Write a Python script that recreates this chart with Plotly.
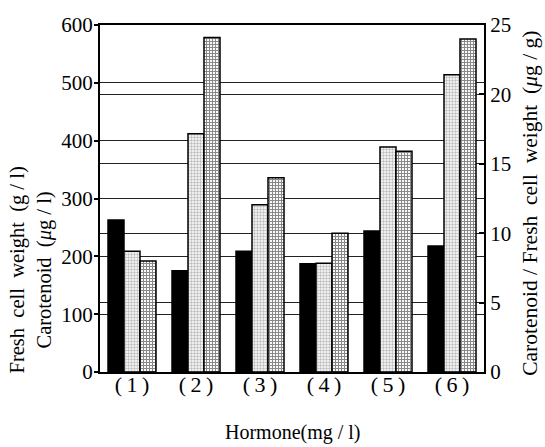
import plotly.graph_objects as go

categories = ["(\u20091\u2009)", "(\u20092\u2009)", "(\u20093\u2009)", "(\u20094\u2009)", "(\u20095\u2009)", "(\u20096\u2009)"]
fresh_weight = [263, 175, 209, 187, 244, 218]          # g/l (left axis)
carotenoid = [209, 412, 289, 188, 389, 514]            # μg/l (left axis)
ratio = [8.0, 24.1, 14.0, 10.0, 15.9, 24.0]            # μg/g (right axis)

left_ticks = [0, 100, 200, 300, 400, 500, 600]
right_ticks = [0, 5, 10, 15, 20, 25]

FONT = "Liberation Serif"
x_idx = list(range(len(categories)))

fig = go.Figure()
fig.add_trace(go.Bar(
    x=x_idx, y=fresh_weight, width=0.25, offset=-0.375,
    marker=dict(color="black", line=dict(color="black", width=1.5)),
    name="Fresh cell weight", yaxis="y"))
fig.add_trace(go.Bar(
    x=x_idx, y=carotenoid, width=0.25, offset=-0.125,
    marker=dict(color="white", line=dict(color="black", width=1.5),
                pattern=dict(shape=".", fgcolor="#777", bgcolor="white", size=3, solidity=0.5)),
    name="Carotenoid", yaxis="y"))
fig.add_trace(go.Bar(
    x=x_idx, y=ratio, width=0.25, offset=0.125,
    marker=dict(color="white", line=dict(color="black", width=1.5),
                pattern=dict(shape="+", fgcolor="#111", bgcolor="white", size=3, solidity=0.6)),
    name="Carotenoid / Fresh cell weight", yaxis="y2"))

fig.update_layout(
    width=545, height=447,
    margin=dict(l=100, r=61, t=25, b=75),
    paper_bgcolor="white", plot_bgcolor="white",
    barmode="overlay", showlegend=False,
    font=dict(family=FONT, color="black", size=21),
    xaxis=dict(
        tickmode="array", tickvals=x_idx, ticktext=categories,
        range=[-0.5, 5.5], showline=True, linecolor="black", linewidth=2,
        mirror=True, ticks="", showgrid=False, tickfont=dict(size=22),
        ticklabelstandoff=-8),
    yaxis=dict(
        range=[0, 600], tickvals=left_ticks, showline=True, linecolor="black",
        linewidth=2, ticks="outside", ticklen=4, tickcolor="black", tickwidth=1.5,
        showgrid=True, gridcolor="#222", gridwidth=1.2, zeroline=False,
        tickfont=dict(size=21), ticklabelstandoff=-3),
    yaxis2=dict(
        range=[0, 25], tickvals=right_ticks, overlaying="y", side="right",
        showline=True, linecolor="black", linewidth=2, ticks="inside",
        ticklen=5, tickcolor="black", tickwidth=1.5,
        showgrid=True, gridcolor="#222", gridwidth=1.2, zeroline=False,
        tickfont=dict(size=21)),
)

fig.add_annotation(
    text="Fresh  cell  weight  (g / l)<br>Carotenoid  (<i>μ</i>g / l)",
    xref="paper", yref="paper", x=-0.18, y=0.295, xanchor="center", yanchor="middle",
    textangle=-90, showarrow=False, font=dict(size=20.5, family=FONT), align="center")
fig.add_annotation(
    text="Carotenoid / Fresh  cell  weight  (<i>μ</i>g / g)",
    xref="paper", yref="paper", x=1.12, y=0.485, xanchor="center", yanchor="middle",
    textangle=-90, showarrow=False, font=dict(size=21.5, family=FONT))
fig.add_annotation(
    text="Hormone(mg / l)",
    xref="paper", yref="paper", x=0.503, y=-0.173, xanchor="center", yanchor="middle",
    showarrow=False, font=dict(size=20, family=FONT))

fig.write_html("out.html")
